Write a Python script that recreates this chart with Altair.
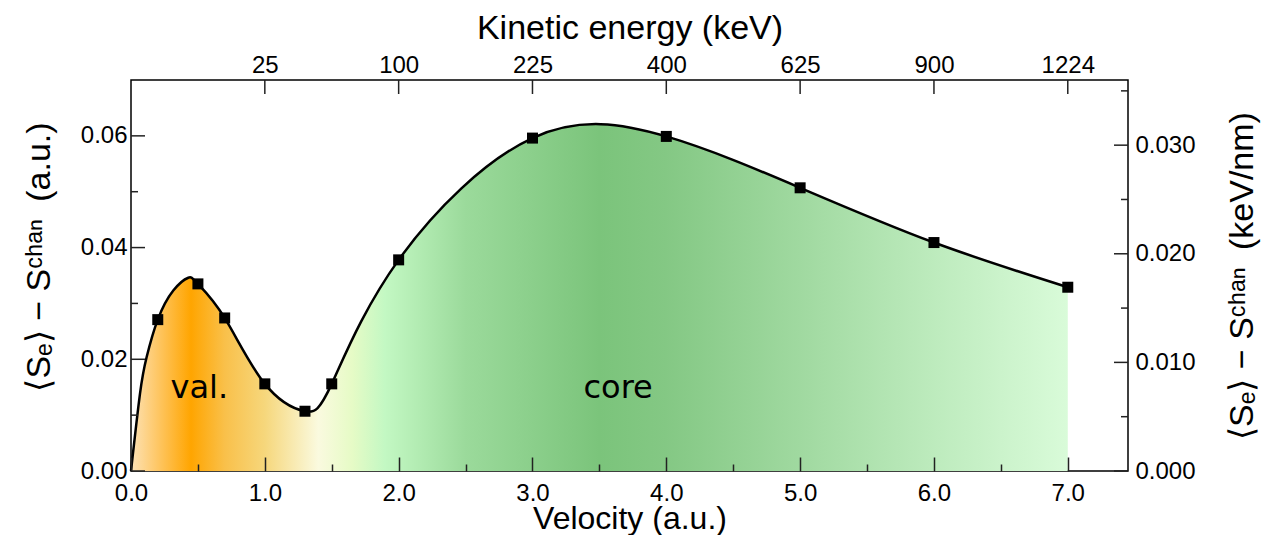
import altair as alt
import pandas as pd

# ---- data ----
# computed points (square markers)
velocity = [0.2, 0.5, 0.7, 1.0, 1.3, 1.5, 2.0, 3.0, 4.0, 5.0, 6.0, 7.0]
stopping = [0.0271, 0.0335, 0.0274, 0.0156, 0.0107, 0.0156, 0.0378, 0.0596, 0.0599, 0.0507, 0.0409, 0.0329]
# extra samples of the drawn curve
curve_extra_v = [0.0, 0.067, 0.117, 0.316, 0.428]
curve_extra_s = [0.0, 0.0138, 0.0204, 0.0323, 0.0346]

energy_tick_v = [1, 2, 3, 4, 5, 6, 7]
energy_labels = ["25", "100", "225", "400", "625", "900", "1224"]

x_major = [0.0, 1.0, 2.0, 3.0, 4.0, 5.0, 6.0, 7.0]
x_minor = [0.5, 1.5, 2.5, 3.5, 4.5, 5.5, 6.5]
left_major = [0.0, 0.02, 0.04, 0.06]
left_minor = [0.01, 0.03, 0.05]
right_major = [0.0, 0.01, 0.02, 0.03]
right_minor = [0.005, 0.015, 0.025, 0.035]

region_names = ["val.", "core"]
region_v = [0.51, 3.64]
region_s = [0.0130, 0.0130]

# ---- styling ----
W, H = 997, 391
Y_MAX, Y_MAX_R, X_MAX = 0.07, 0.036, 7.45
FONT = "Liberation Sans"
MAJ, MIN = 14, 7
TICK_COLOR = "#222222"
TITLE_SIZE = 34

xs = alt.Scale(domain=[0, X_MAX], nice=False, zero=False)
ys = alt.Scale(domain=[0, Y_MAX], nice=False)
ys_r = alt.Scale(domain=[0, Y_MAX_R], nice=False)

grad = alt.LinearGradient(
    gradient="linear", x1=0, x2=1, y1=0, y2=0,
    stops=[
        alt.GradientStop(offset=0.0, color="#fde2b6"),
        alt.GradientStop(offset=0.064, color="#ffa500"),
        alt.GradientStop(offset=0.10, color="#f9c04a"),
        alt.GradientStop(offset=0.143, color="#f6d77c"),
        alt.GradientStop(offset=0.20, color="#fafadf"),
        alt.GradientStop(offset=0.236, color="#e6fbc6"),
        alt.GradientStop(offset=0.271, color="#c3f8c3"),
        alt.GradientStop(offset=0.357, color="#9bda9b"),
        alt.GradientStop(offset=0.50, color="#7bc47b"),
        alt.GradientStop(offset=0.571, color="#84c884"),
        alt.GradientStop(offset=0.714, color="#a0d9a0"),
        alt.GradientStop(offset=0.857, color="#bdebbd"),
        alt.GradientStop(offset=1.0, color="#d9fbd9"),
    ],
)

curve = pd.DataFrame({"v": curve_extra_v + velocity, "s": curve_extra_s + stopping}).sort_values("v")
pts = pd.DataFrame({"v": velocity, "s": stopping})
regions = pd.DataFrame({"name": region_names, "v": region_v, "s": region_s})

sub = "\u2091"
sup = "\u1d9c\u02b0\u1d43\u207f"
left_title = f"\u27e8S{sub}\u27e9 \u2212 S{sup}\u2002(a.u.)"
right_title = f"\u27e8S{sub}\u27e9 \u2212 S{sup}\u2002(keV/nm)"

common = dict(ticks=False, tickSize=0, domain=False, grid=False, labelFlush=False,
              labelOverlap=False, labelFontSize=24)
tick_style = dict(domain=False, grid=False, ticks=True, tickColor=TICK_COLOR, tickWidth=1.5,
                  zindex=2)

# bottom axes: moved up into the plot so that their ticks point inward, drawn above the marks
x_axis = alt.Axis(orient="bottom", values=x_major, format=".1f", offset=-MAJ, tickSize=MAJ,
                  labelFlush=False, labelOverlap=False, labelFontSize=24,
                  labelPadding=10, title="Velocity (a.u.)", titlePadding=-2, titleFontSize=32,
                  **tick_style)
x_minor_axis = alt.Axis(orient="bottom", values=x_minor, offset=-MIN, tickSize=MIN,
                        labels=False, title=None, **tick_style)
y_axis = alt.Axis(orient="left", values=left_major, format=".2f", labelPadding=4,
                  title=left_title, titlePadding=24, titleY=H / 2 - 19,
                  titleFontSize=TITLE_SIZE, **common)
right_axis = alt.Axis(orient="right", values=right_major, format=".3f", labelPadding=7,
                      title=right_title, titlePadding=30, titleAngle=270, titleBaseline="top",
                      titleFontSize=TITLE_SIZE, **common)
idx = "[" + ",".join(str(v) for v in energy_tick_v) + "]"
labs = "[" + ",".join(f"'{l}'" for l in energy_labels) + "]"
top_axis = alt.Axis(orient="top", values=energy_tick_v, labelPadding=3,
                    labelExpr=f"{labs}[indexof({idx}, datum.value)]",
                    title="Kinetic energy (keV)", titlePadding=8, titleFontSize=TITLE_SIZE,
                    **common)


def X(ax=None):
    return alt.X("v:Q", scale=xs, axis=ax)


def Y(ax=None):
    return alt.Y("s:Q", scale=ys, axis=ax)


area = alt.Chart(curve).mark_area(interpolate="natural", color=grad).encode(x=X(x_axis), y=Y(y_axis))
line = alt.Chart(curve).mark_line(interpolate="natural", color="black", strokeWidth=2.5).encode(
    x=X(x_minor_axis), y=Y())
marks = alt.Chart(pts).mark_square(size=121, color="black", opacity=1).encode(x=X(), y=Y())
texts = alt.Chart(regions).mark_text(
    font="DejaVu Sans", fontSize=32, align="center", baseline="alphabetic", color="black"
).encode(x=X(), y=Y(), text="name:N")


def top_ticks(vals, length, axis=None):
    df = pd.DataFrame({"v": vals})
    return alt.Chart(df).mark_rule(color=TICK_COLOR, strokeWidth=1.5).encode(
        x=alt.X("v:Q", scale=xs, axis=axis), y=alt.value(0), y2=alt.value(length))


def hticks(vals, length, scale, right=False, axis=None):
    df = pd.DataFrame({"s": vals})
    if right:
        xpair = dict(x=alt.value(W - length), x2=alt.value(W))
    else:
        xpair = dict(x=alt.value(0), x2=alt.value(length))
    return alt.Chart(df).mark_rule(color=TICK_COLOR, strokeWidth=1.5).encode(
        y=alt.Y("s:Q", scale=scale, axis=axis), **xpair)


chart = alt.layer(
    area, line, marks, texts,
    top_ticks(energy_tick_v, MAJ, axis=top_axis),
    hticks(left_major, MAJ, ys), hticks(left_minor, MIN, ys),
    hticks(right_major, MAJ, ys_r, right=True, axis=right_axis),
    hticks(right_minor, MIN, ys_r, right=True),
).resolve_scale(x="independent", y="independent").properties(
    width=W, height=H,
    autosize=alt.AutoSizeParams(type="none"),
    padding={"left": 123, "top": 72, "right": 138, "bottom": 64},
    background="white",
).configure_view(stroke="black", strokeWidth=1.5).configure_axis(
    labelFont=FONT, titleFont=FONT, labelColor="black", titleColor="black", titleFontWeight="normal",
)

chart.save("out.html", embed_options={"renderer": "svg", "actions": False})
